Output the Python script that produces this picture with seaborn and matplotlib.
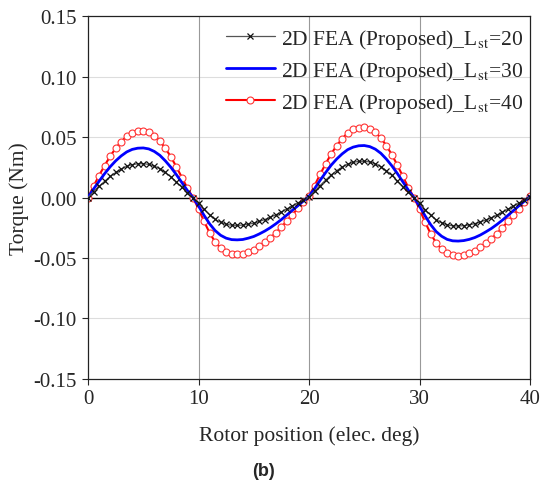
import numpy as np
import pandas as pd
import seaborn as sns
import matplotlib.pyplot as plt

# rotor position (elec. deg), 0.5 deg step
rotor_pos = [i * 0.5 for i in range(81)]

torque_l20 = [
    0.0, 0.0048, 0.0092, 0.0134, 0.0174, 0.0207, 0.0235, 0.0258, 0.0272, 0.0279,
    0.028, 0.0274, 0.026, 0.0238, 0.0207, 0.0171, 0.0129, 0.0084, 0.0039, 0.0,
    -0.0046, -0.0097, -0.0143, -0.018, -0.0205, -0.0221, -0.0229, -0.023, -0.0228, -0.0221,
    -0.0212, -0.0198, -0.0182, -0.0163, -0.0143, -0.012, -0.0094, -0.0069, -0.0044, -0.0018,
    0.0005, 0.0051, 0.0099, 0.0144, 0.0186, 0.0222, 0.0252, 0.0276, 0.0291, 0.0299,
    0.030, 0.0294, 0.0279, 0.0255, 0.0222, 0.0183, 0.0138, 0.009, 0.0042, 0.0,
    -0.0047, -0.0099, -0.0146, -0.0183, -0.0209, -0.0226, -0.0234, -0.0235, -0.0233, -0.0226,
    -0.0216, -0.0202, -0.0186, -0.0167, -0.0146, -0.0122, -0.0096, -0.0071, -0.0045, -0.0019,
    0.0005,
]

torque_l30 = [
    0.0, 0.007, 0.0135, 0.0197, 0.0254, 0.0303, 0.0344, 0.0377, 0.0398, 0.0408,
    0.041, 0.0402, 0.0381, 0.0349, 0.0303, 0.025, 0.0189, 0.0123, 0.0057, 0.0,
    -0.007, -0.0147, -0.0217, -0.0273, -0.0312, -0.0336, -0.0348, -0.035, -0.0347, -0.0336,
    -0.0322, -0.0301, -0.0277, -0.0249, -0.0217, -0.0182, -0.0144, -0.0105, -0.0067, -0.0028,
    0.001, 0.0073, 0.0142, 0.0206, 0.0267, 0.0318, 0.0361, 0.0396, 0.0417, 0.0428,
    0.043, 0.0421, 0.040, 0.0366, 0.0318, 0.0262, 0.0198, 0.0129, 0.006, 0.0,
    -0.0072, -0.0151, -0.0223, -0.0281, -0.032, -0.0346, -0.0358, -0.036, -0.0356, -0.0346,
    -0.0331, -0.031, -0.0284, -0.0256, -0.0223, -0.0187, -0.0148, -0.0108, -0.0068, -0.0029,
    0.001,
]

torque_l40 = [
    0.0, 0.0094, 0.0182, 0.0264, 0.0341, 0.0407, 0.0462, 0.0506, 0.0534, 0.0547,
    0.055, 0.0539, 0.0512, 0.0468, 0.0407, 0.0336, 0.0253, 0.0165, 0.0077, 0.0,
    -0.0094, -0.0197, -0.0291, -0.0367, -0.0418, -0.0451, -0.0468, -0.047, -0.0465, -0.0451,
    -0.0432, -0.0404, -0.0371, -0.0334, -0.0291, -0.0244, -0.0193, -0.0141, -0.0089, -0.0038,
    0.001, 0.0099, 0.0191, 0.0278, 0.036, 0.0429, 0.0487, 0.0534, 0.0563, 0.0577,
    0.058, 0.0568, 0.0539, 0.0493, 0.0429, 0.0354, 0.0267, 0.0174, 0.0081, 0.0,
    -0.0096, -0.0202, -0.0298, -0.0374, -0.0427, -0.0461, -0.0478, -0.048, -0.0475, -0.0461,
    -0.0442, -0.0413, -0.0379, -0.0341, -0.0298, -0.025, -0.0197, -0.0144, -0.0091, -0.0038,
    0.001,
]

labels = [r'2D FEA (Proposed)_L$_{\mathrm{st}}$=20',
          r'2D FEA (Proposed)_L$_{\mathrm{st}}$=30',
          r'2D FEA (Proposed)_L$_{\mathrm{st}}$=40']

y_ticks = [-0.15, -0.10, -0.05, 0.0, 0.05, 0.10, 0.15]
x_ticks = [0, 10, 20, 30, 40]

df = pd.DataFrame({'pos': rotor_pos, 'l20': torque_l20,
                   'l30': torque_l30, 'l40': torque_l40})

sns.set_style('ticks')
plt.rcParams['font.family'] = ['Liberation Serif', 'DejaVu Serif']
plt.rcParams['mathtext.fontset'] = 'stix'

fig = plt.figure(figsize=(5.45, 4.89), dpi=100)
ax = fig.add_axes([0.1615, 0.223, 0.811, 0.742])

# grid
for yv in [0.10, 0.05, -0.05, -0.10]:
    ax.axhline(yv, color='#dddddd', lw=0.8, zorder=0)
for xv in [10, 20, 30]:
    ax.axvline(xv, color='#999999', lw=0.8, zorder=0)
ax.axhline(0, color='black', lw=1.0, zorder=1)

sns.lineplot(data=df, x='pos', y='l30', ax=ax, color='#0000ff', lw=2.0,
             label=labels[1], zorder=3)
sns.lineplot(data=df, x='pos', y='l40', ax=ax, color='#ff0000', lw=1.5,
             marker='o', markersize=5, markerfacecolor='white',
             markeredgecolor='#ff3333', markeredgewidth=0.8,
             label=labels[2], zorder=2)
sns.lineplot(data=df, x='pos', y='l20', ax=ax, color='#555555', lw=0.9,
             marker='x', markersize=4, markeredgecolor='#111111',
             markeredgewidth=0.9, label=labels[0], zorder=4)

ax.set_xlim(0, 40)
ax.set_ylim(-0.15, 0.15)
ax.set_xticks(x_ticks)
ax.set_yticks(y_ticks)
ax.set_yticklabels(['%.2f' % v for v in y_ticks])
ax.tick_params(labelsize=15, direction='out', length=4, width=0.8, pad=4)
ax.tick_params(axis='x', pad=3)
ax.set_xlabel('Rotor position (elec. deg)', fontsize=15.5, labelpad=12.5)
ax.set_ylabel('Torque (Nm)', fontsize=15.5, labelpad=3)
for s in ax.spines.values():
    s.set_linewidth(0.9)
    s.set_color('#222222')

h, l = ax.get_legend_handles_labels()
order = [l.index(t) for t in labels]
ax.legend([h[i] for i in order], [l[i] for i in order], loc='upper right',
          frameon=False, fontsize=15.5, handlelength=2.3, handletextpad=0.3,
          labelspacing=0.38, borderaxespad=0.0, bbox_to_anchor=(1.005, 0.995))

fig.text(0.4835, 0.035, '(b)', ha='center', va='center', fontsize=13,
         fontweight='bold', family='Liberation Sans')

fig.savefig('out.png', dpi=100)
